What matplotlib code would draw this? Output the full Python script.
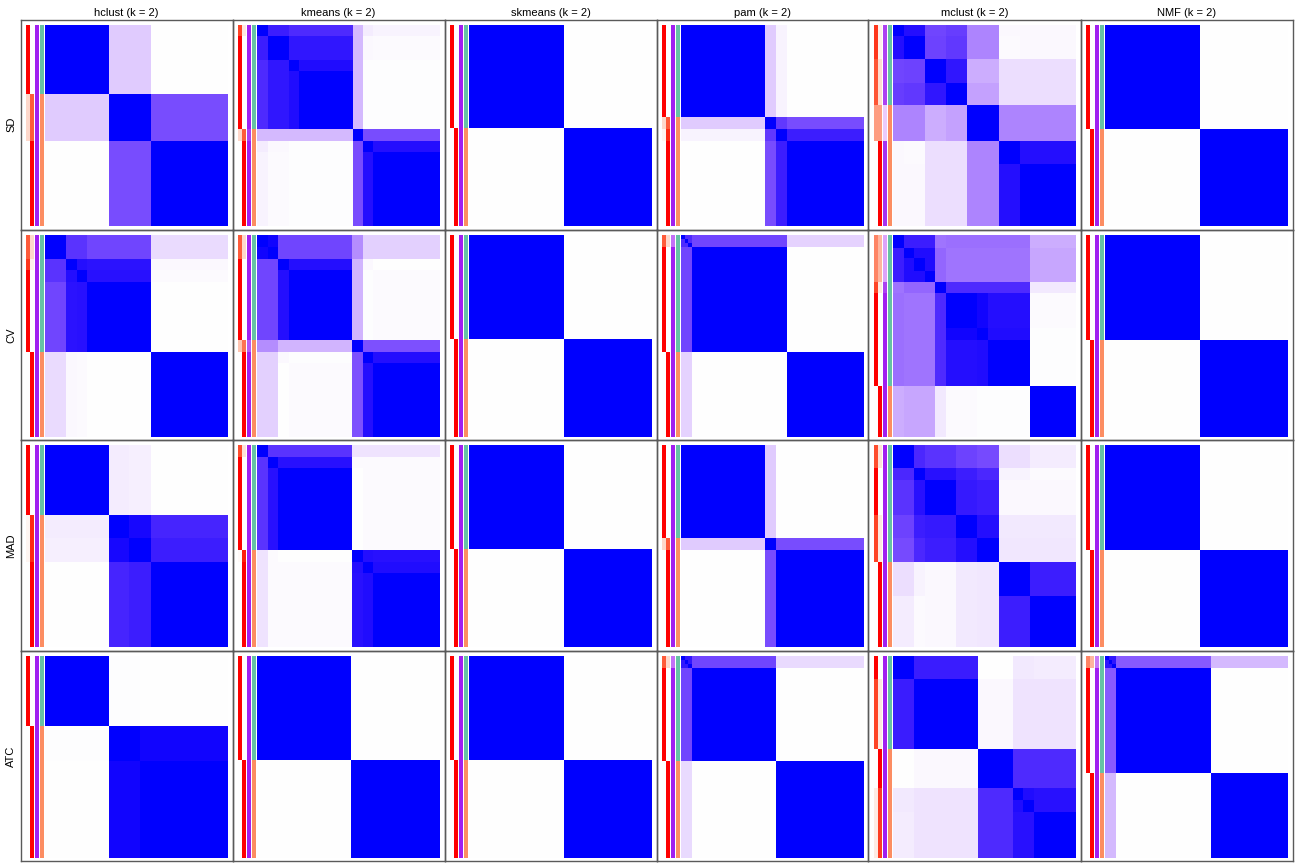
import numpy as np
import matplotlib
matplotlib.use("Agg")
import matplotlib.pyplot as plt
from matplotlib.colors import ListedColormap, to_rgb

# ---------------------------------------------------------------- data
methods = ["hclust", "kmeans", "skmeans", "pam", "mclust", "NMF"]
row_labels = ["SD", "CV", "MAD", "ATC"]
k_value = 2

two_cons = [[1, 0], [0, 1]]
two_p1 = [1, 0]
two_sil = [1, 1]
two_cls = [1, 2]

# --- SD
sd_hclust_cuts = [0.347, 0.577]
sd_hclust_cons = [[1, .22, 0], [.22, 1, .77], [0, .77, 1]]
sd_hclust_p1 = [1, .2, 0]
sd_hclust_sil = [1, 1, 1]
sd_hclust_cls = [1, 2, 2]

sd_kmeans_cuts = [0.06, 0.177, 0.232, 0.522, 0.577, 0.635]
sd_kmeans_cons = [[1, .94, .9, .9, .3, .08, .05],
                  [.94, 1, .96, .96, .3, .03, .02],
                  [.9, .96, 1, .98, .3, .01, .01],
                  [.9, .96, .98, 1, .3, .01, .01],
                  [.3, .3, .3, .3, 1, .77, .77],
                  [.08, .03, .01, .01, .77, 1, .975],
                  [.05, .02, .01, .01, .77, .975, 1]]
sd_kmeans_p1 = [.88, 1, 1, 1, .2, 0, 0]
sd_kmeans_sil = [1, 1, 1, 1, .9, 1, 1]
sd_kmeans_cls = [1, 1, 1, 1, 2, 2, 2]

sd_skmeans_cuts = [0.517]

sd_pam_cuts = [0.46, 0.52, 0.577]
sd_pam_cons = [[1, .22, .05, 0], [.22, 1, .85, .77], [.05, .85, 1, .94], [0, .77, .94, 1]]
sd_pam_p1 = [1, .2, .05, 0]
sd_pam_sil = [1, 1, 1, 1]
sd_pam_cls = [1, 2, 2, 2]

sd_mclust_cuts = [0.06, 0.175, 0.29, 0.403, 0.577, 0.692]
sd_mclust_cons = [[1, .975, .8, .83, .53, .03, .03],
                  [.975, 1, .81, .85, .53, .02, .03],
                  [.8, .81, 1, .96, .35, .14, .14],
                  [.83, .85, .96, 1, .4, .14, .14],
                  [.53, .53, .35, .4, 1, .53, .53],
                  [.03, .02, .14, .14, .53, 1, .975],
                  [.03, .03, .14, .14, .53, .975, 1]]
sd_mclust_p1 = [.92, .92, .82, .82, .5, 0, 0]
sd_mclust_sil = [.9, .9, .9, .9, .25, .95, .95]
sd_mclust_cls = [1, 1, 1, 1, 2, 2, 2]

sd_nmf_cuts = [0.52]

# --- CV
cv_hclust_cuts = [0.117, 0.175, 0.232, 0.577]
cv_hclust_cons = [[1, .87, .87, .8, .15],
                  [.87, 1, .975, .965, .03],
                  [.87, .975, 1, .97, .02],
                  [.8, .965, .97, 1, 0],
                  [.15, .03, .02, 0, 1]]
cv_hclust_p1 = [.8, .92, 1, 1, 0]
cv_hclust_sil = [1, 1, 1, 1, 1]
cv_hclust_cls = [1, 1, 1, 1, 2]

cv_kmeans_cuts = [0.06, 0.117, 0.175, 0.52, 0.577, 0.635]
cv_kmeans_cons = [[1, .99, .8, .8, .49, .2, .2],
                  [.99, 1, .8, .8, .49, .2, .2],
                  [.8, .8, 1, .975, .32, .03, 0],
                  [.8, .8, .975, 1, .32, .01, .02],
                  [.49, .49, .32, .32, 1, .75, .75],
                  [.2, .2, .03, .01, .75, 1, .975],
                  [.2, .2, 0, .02, .75, .975, 1]]
cv_kmeans_p1 = [.8, .8, 1, 1, .3, 0, 0]
cv_kmeans_sil = [1, 1, 1, 1, .8, 1, 1]
cv_kmeans_cls = [1, 1, 1, 1, 2, 2, 2]

cv_skmeans_cuts = [0.517]

cv_pam_cuts = [0.02, 0.038, 0.058, 0.577]
cv_pam_cons = [[1, .9, .9, .8, .19],
               [.9, 1, .9, .8, .19],
               [.9, .9, 1, .8, .19],
               [.8, .8, .8, 1, 0],
               [.19, .19, .19, 0, 1]]
cv_pam_p1 = [.8, .8, .8, 1, 0]
cv_pam_sil = [.7, .7, .7, 1, 1]
cv_pam_cls = [1, 1, 1, 1, 2]

cv_mclust_cuts = [0.062, 0.116, 0.176, 0.231, 0.289, 0.46, 0.521, 0.747]
cv_mclust_cons = [[1, .94, .94, .94, .6, .62, .62, .62, .35],
                  [.94, 1, .98, .98, .66, .6, .6, .6, .38],
                  [.94, .98, 1, .98, .66, .6, .6, .6, .38],
                  [.94, .98, .98, 1, .66, .6, .6, .6, .38],
                  [.6, .66, .66, .66, 1, .9, .9, .9, .09],
                  [.62, .6, .6, .6, .9, 1, .99, .975, .02],
                  [.62, .6, .6, .6, .9, .99, 1, .98, .01],
                  [.62, .6, .6, .6, .9, .975, .98, 1, .01],
                  [.35, .38, .38, .38, .09, .02, .01, .01, 1]]
cv_mclust_p1 = [.62, .62, .62, .62, .88, 1, 1, 1, 0]
cv_mclust_sil = [.45, .45, .45, .45, .9, 1, 1, 1, 1]
cv_mclust_cls = [1, 1, 1, 1, 1, 1, 1, 1, 2]

cv_nmf_cuts = [0.52]

# --- MAD
mad_hclust_cuts = [0.347, 0.46, 0.577]
mad_hclust_cons = [[1, .08, .07, 0], [.08, 1, .985, .92], [.07, .985, 1, .94], [0, .92, .94, 1]]
mad_hclust_p1 = [1, .05, .05, 0]
mad_hclust_sil = [1, 1, 1, 1]
mad_hclust_cls = [1, 2, 2, 2]

mad_kmeans_cuts = [0.06, 0.116, 0.52, 0.577, 0.633]
mad_kmeans_cons = [[1, .87, .87, .12, .12, .12],
                   [.87, 1, .97, .02, .02, .02],
                   [.87, .97, 1, 0, .02, .02],
                   [.12, .02, 0, 1, .975, .97],
                   [.12, .02, .02, .975, 1, .98],
                   [.12, .02, .02, .97, .98, 1]]
mad_kmeans_p1 = [.85, 1, 1, .03, 0, 0]
mad_kmeans_sil = [1, 1, 1, 1, 1, 1]
mad_kmeans_cls = [1, 1, 1, 2, 2, 2]

mad_skmeans_cuts = [0.517]

mad_pam_cuts = [0.46, 0.52]
mad_pam_cons = [[1, .22, 0], [.22, 1, .77], [0, .77, 1]]
mad_pam_p1 = [1, .2, 0]
mad_pam_sil = [1, 1, 1]
mad_pam_cls = [1, 2, 2]

mad_mclust_cuts = [0.116, 0.173, 0.345, 0.459, 0.577, 0.747]
mad_mclust_cons = [[1, .91, .87, .81, .78, .14, .08],
                   [.91, 1, .97, .94, .91, .05, .02],
                   [.87, .97, 1, .95, .94, .03, .03],
                   [.81, .94, .95, 1, .975, .09, .09],
                   [.78, .91, .94, .975, 1, .1, .1],
                   [.14, .05, .03, .09, .1, 1, .94],
                   [.08, .02, .03, .09, .1, .94, 1]]
mad_mclust_p1 = [.85, 1, 1, .88, .88, 0, 0]
mad_mclust_sil = [1, 1, 1, 1, 1, 1, 1]
mad_mclust_cls = [1, 1, 1, 1, 1, 2, 2]

mad_nmf_cuts = [0.52]

# --- ATC
atc_hclust_cuts = [0.347, 0.52]
atc_hclust_cons = [[1, .01, 0], [.01, 1, .99], [0, .99, 1]]
atc_hclust_p1 = [1, 0, 0]
atc_hclust_sil = [1, 1, 1]
atc_hclust_cls = [1, 2, 2]

atc_kmeans_cuts = [0.515]
atc_skmeans_cuts = [0.517]

atc_pam_cuts = [0.02, 0.04, 0.058, 0.52]
atc_pam_cons = [[1, .96, .96, .8, .16],
                [.96, 1, .96, .8, .16],
                [.96, .96, 1, .8, .16],
                [.8, .8, .8, 1, 0],
                [.16, .16, .16, 0, 1]]
atc_pam_p1 = [.8, .8, .8, 1, 0]
atc_pam_sil = [.7, .7, .7, 1, 1]
atc_pam_cls = [1, 1, 1, 1, 2]

atc_mclust_cuts = [0.116, 0.462, 0.655, 0.712, 0.77]
atc_mclust_cons = [[1, .945, 0, .09, .09, .08],
                   [.945, 1, .03, .12, .12, .12],
                   [0, .03, 1, .9, .9, .9],
                   [.09, .12, .9, 1, .98, .97],
                   [.09, .12, .9, .98, 1, .97],
                   [.08, .12, .9, .97, .97, 1]]
atc_mclust_p1 = [1, .88, 0, .1, .1, .1]
atc_mclust_sil = [1, 1, 1, 1, 1, 1]
atc_mclust_cls = [1, 1, 2, 2, 2, 2]

atc_nmf_cuts = [0.02, 0.04, 0.06, 0.578]
atc_nmf_cons = [[1, .96, .96, .71, .3],
                [.96, 1, .96, .71, .3],
                [.96, .96, 1, .71, .3],
                [.71, .71, .71, 1, 0],
                [.3, .3, .3, 0, 1]]
atc_nmf_p1 = [.62, .62, .62, 1, 0]
atc_nmf_sil = [.65, .65, .65, 1, 1]
atc_nmf_cls = [1, 1, 1, 1, 2]

panels = {
    ("SD", "hclust"): (sd_hclust_cuts, sd_hclust_cons, sd_hclust_p1, sd_hclust_sil, sd_hclust_cls),
    ("SD", "kmeans"): (sd_kmeans_cuts, sd_kmeans_cons, sd_kmeans_p1, sd_kmeans_sil, sd_kmeans_cls),
    ("SD", "skmeans"): (sd_skmeans_cuts, two_cons, two_p1, two_sil, two_cls),
    ("SD", "pam"): (sd_pam_cuts, sd_pam_cons, sd_pam_p1, sd_pam_sil, sd_pam_cls),
    ("SD", "mclust"): (sd_mclust_cuts, sd_mclust_cons, sd_mclust_p1, sd_mclust_sil, sd_mclust_cls),
    ("SD", "NMF"): (sd_nmf_cuts, two_cons, two_p1, two_sil, two_cls),
    ("CV", "hclust"): (cv_hclust_cuts, cv_hclust_cons, cv_hclust_p1, cv_hclust_sil, cv_hclust_cls),
    ("CV", "kmeans"): (cv_kmeans_cuts, cv_kmeans_cons, cv_kmeans_p1, cv_kmeans_sil, cv_kmeans_cls),
    ("CV", "skmeans"): (cv_skmeans_cuts, two_cons, two_p1, two_sil, two_cls),
    ("CV", "pam"): (cv_pam_cuts, cv_pam_cons, cv_pam_p1, cv_pam_sil, cv_pam_cls),
    ("CV", "mclust"): (cv_mclust_cuts, cv_mclust_cons, cv_mclust_p1, cv_mclust_sil, cv_mclust_cls),
    ("CV", "NMF"): (cv_nmf_cuts, two_cons, two_p1, two_sil, two_cls),
    ("MAD", "hclust"): (mad_hclust_cuts, mad_hclust_cons, mad_hclust_p1, mad_hclust_sil, mad_hclust_cls),
    ("MAD", "kmeans"): (mad_kmeans_cuts, mad_kmeans_cons, mad_kmeans_p1, mad_kmeans_sil, mad_kmeans_cls),
    ("MAD", "skmeans"): (mad_skmeans_cuts, two_cons, two_p1, two_sil, two_cls),
    ("MAD", "pam"): (mad_pam_cuts, mad_pam_cons, mad_pam_p1, mad_pam_sil, mad_pam_cls),
    ("MAD", "mclust"): (mad_mclust_cuts, mad_mclust_cons, mad_mclust_p1, mad_mclust_sil, mad_mclust_cls),
    ("MAD", "NMF"): (mad_nmf_cuts, two_cons, two_p1, two_sil, two_cls),
    ("ATC", "hclust"): (atc_hclust_cuts, atc_hclust_cons, atc_hclust_p1, atc_hclust_sil, atc_hclust_cls),
    ("ATC", "kmeans"): (atc_kmeans_cuts, two_cons, two_p1, two_sil, two_cls),
    ("ATC", "skmeans"): (atc_skmeans_cuts, two_cons, two_p1, two_sil, two_cls),
    ("ATC", "pam"): (atc_pam_cuts, atc_pam_cons, atc_pam_p1, atc_pam_sil, atc_pam_cls),
    ("ATC", "mclust"): (atc_mclust_cuts, atc_mclust_cons, atc_mclust_p1, atc_mclust_sil, atc_mclust_cls),
    ("ATC", "NMF"): (atc_nmf_cuts, atc_nmf_cons, atc_nmf_p1, atc_nmf_sil, atc_nmf_cls),
}

class_colors = {1: "#66C2A5", 2: "#FC8D62"}

# ---------------------------------------------------------------- LAB colour ramps
_M = np.array([[0.4124564, 0.3575761, 0.1804375],
               [0.2126729, 0.7151522, 0.0721750],
               [0.0193339, 0.1191920, 0.9503041]])
_Minv = np.linalg.inv(_M)
_WP = np.array([0.95047, 1.0, 1.08883])
_d = 6 / 29


def rgb2lab(rgb):
    rgb = np.asarray(rgb, float)
    lin = np.where(rgb <= 0.04045, rgb / 12.92, ((rgb + 0.055) / 1.055) ** 2.4)
    xyz = lin @ _M.T / _WP
    f = np.where(xyz > _d ** 3, np.cbrt(xyz), xyz / (3 * _d ** 2) + 4 / 29)
    return np.stack([116 * f[..., 1] - 16, 500 * (f[..., 0] - f[..., 1]),
                     200 * (f[..., 1] - f[..., 2])], axis=-1)


def lab2rgb(lab):
    L, a, b = lab[..., 0], lab[..., 1], lab[..., 2]
    fy = (L + 16) / 116
    f = np.stack([fy + a / 500, fy, fy - b / 200], axis=-1)
    xyz = np.where(f > _d, f ** 3, 3 * _d ** 2 * (f - 4 / 29)) * _WP
    lin = np.clip(xyz @ _Minv.T, 0, 1)
    return np.clip(np.where(lin <= 0.0031308, 12.92 * lin,
                            1.055 * lin ** (1 / 2.4) - 0.055), 0, 1)


def lab_ramp(t, c0, c1):
    t = np.clip(np.asarray(t, float), 0, 1)[..., None]
    l0, l1 = rgb2lab(to_rgb(c0)), rgb2lab(to_rgb(c1))
    return lab2rgb(l0 + (l1 - l0) * t)


cons_cmap = ListedColormap(lab_ramp(np.linspace(0, 1, 256), "white", "blue"))

# ---------------------------------------------------------------- layout
W, H = 1296, 864
fig = plt.figure(figsize=(W / 100, H / 100), dpi=100)
fig.patch.set_facecolor("white")

P_LEFT, P_TOP, P_W, P_H = 20.5, 19.5, 212.0, 210.4
HM_X0, HM_X1, HM_Y0, HM_Y1 = 24.3, 207.0, 5.0, 207.0
ANN_COLS = [(5.3, 9.3), (9.3, 12.6), (14.3, 17.8), (19.3, 23.2)]
RES = 1000
FONT = ["Liberation Sans", "DejaVu Sans"]


def add_ax(x, y, w, h):
    return fig.add_axes([x / W, 1 - (y + h) / H, w / W, h / H])


for r, rlab in enumerate(row_labels):
    for c, meth in enumerate(methods):
        px, py = P_LEFT + c * P_W, P_TOP + r * P_H
        frame = add_ax(px, py, P_W, P_H)
        frame.set_xticks([]); frame.set_yticks([])
        for s in frame.spines.values():
            s.set_color("#5a5a5a"); s.set_linewidth(1.0)
        frame.patch.set_alpha(0)

        cuts, cons, p1, sil, cls = panels[(rlab, meth)]
        cons = np.asarray(cons, float)
        cons = (cons + cons.T) / 2
        bounds = np.round(np.r_[0, cuts, 1] * RES).astype(int)
        sizes = np.diff(bounds)
        idx = np.repeat(np.arange(len(sizes)), sizes)
        mat = cons[np.ix_(idx, idx)]

        hm = add_ax(px + HM_X0, py + HM_Y0, HM_X1 - HM_X0, HM_Y1 - HM_Y0)
        hm.imshow(mat, cmap=cons_cmap, vmin=0, vmax=1, aspect="auto",
                  interpolation="nearest", extent=(0, 1, 1, 0))
        hm.axis("off")

        p1a = np.asarray(p1, float)[idx]
        cols = [lab_ramp(p1a, "white", "red"),
                lab_ramp(1 - p1a, "white", "red"),
                lab_ramp(np.asarray(sil, float)[idx], "white", "#A020F0"),
                np.array([to_rgb(class_colors[v]) for v in np.asarray(cls)[idx]])]
        an = add_ax(px + ANN_COLS[0][0], py + HM_Y0,
                    ANN_COLS[-1][1] - ANN_COLS[0][0], HM_Y1 - HM_Y0)
        for (x0, x1), rgb in zip(ANN_COLS, cols):
            an.imshow(rgb[:, None, :], aspect="auto", interpolation="nearest",
                      extent=(x0, x1, 1, 0))
        an.set_xlim(ANN_COLS[0][0], ANN_COLS[-1][1])
        an.set_ylim(1, 0)
        an.axis("off")

        if r == 0:
            fig.text((px + P_W / 2) / W, 1 - 12.5 / H, f"{meth} (k = {k_value})",
                     ha="center", va="center", fontsize=8, family=FONT)
    fig.text(11 / W, 1 - (P_TOP + r * P_H + P_H / 2) / H, rlab, rotation=90,
             ha="center", va="center", fontsize=8, family=FONT)

fig.savefig("out.png", dpi=100, facecolor="white")
